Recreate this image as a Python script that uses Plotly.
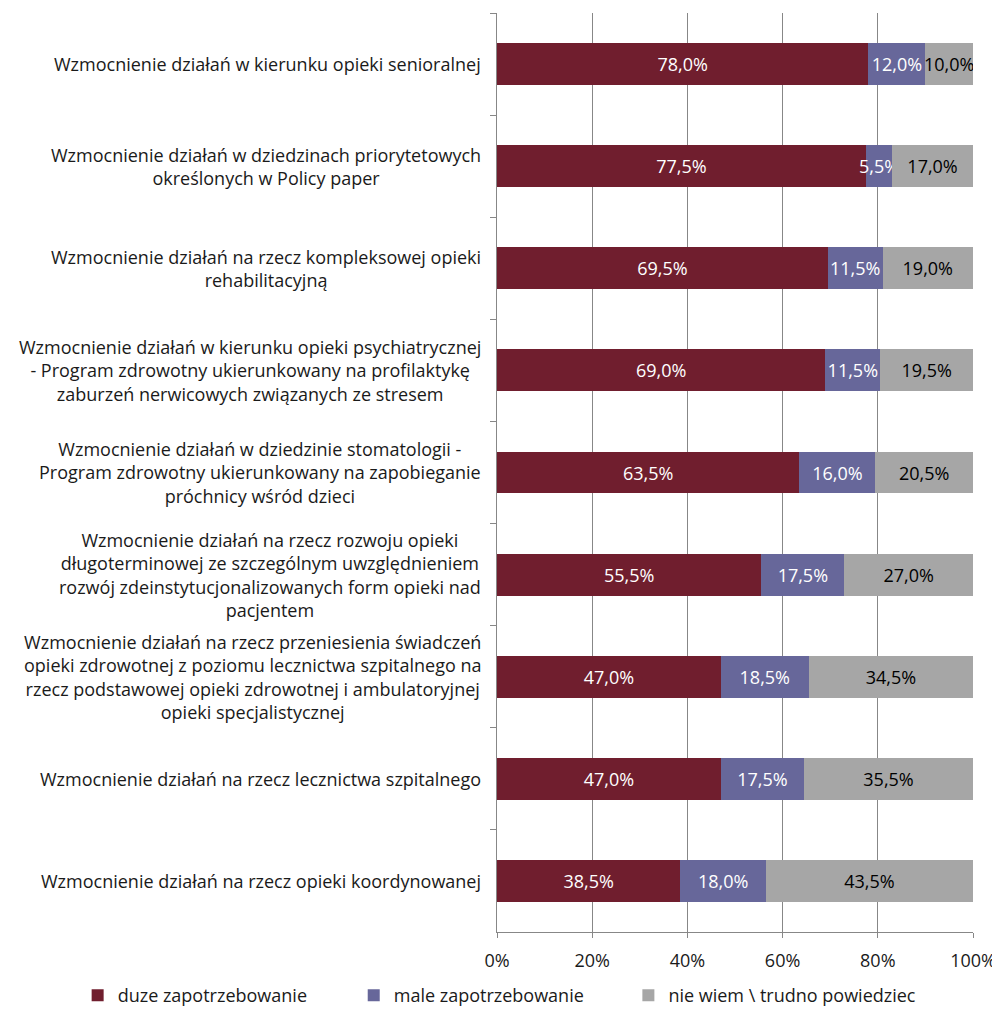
import plotly.graph_objects as go

categories = [
    "Wzmocnienie działań w kierunku opieki senioralnej",
    "Wzmocnienie działań w dziedzinach priorytetowych<br>określonych w Policy paper",
    "Wzmocnienie działań na rzecz kompleksowej opieki<br>rehabilitacyjną",
    "Wzmocnienie działań w kierunku opieki psychiatrycznej<br>- Program zdrowotny ukierunkowany na profilaktykę<br>zaburzeń nerwicowych związanych ze stresem",
    "Wzmocnienie działań w dziedzinie stomatologii -<br>Program zdrowotny ukierunkowany na zapobieganie<br>próchnicy wśród dzieci",
    "Wzmocnienie działań na rzecz rozwoju opieki<br>długoterminowej ze szczególnym uwzględnieniem<br>rozwój zdeinstytucjonalizowanych form opieki nad<br>pacjentem",
    "Wzmocnienie działań na rzecz przeniesienia świadczeń<br>opieki zdrowotnej z poziomu lecznictwa szpitalnego na<br>rzecz podstawowej opieki zdrowotnej i ambulatoryjnej<br>opieki specjalistycznej",
    "Wzmocnienie działań na rzecz lecznictwa szpitalnego",
    "Wzmocnienie działań na rzecz opieki koordynowanej",
]
duze = [78.0, 77.5, 69.5, 69.0, 63.5, 55.5, 47.0, 47.0, 38.5]
male = [12.0, 5.5, 11.5, 11.5, 16.0, 17.5, 18.5, 17.5, 18.0]
nie_wiem = [10.0, 17.0, 19.0, 19.5, 20.5, 27.0, 34.5, 35.5, 43.5]
series_names = ["duze zapotrzebowanie", "male zapotrzebowanie", "nie wiem \\ trudno powiedziec"]
x_ticks = [0, 20, 40, 60, 80, 100]
x_tick_labels = ["0%", "20%", "40%", "60%", "80%", "100%"]

FONT = "Open Sans"
FS = 18
colors = ["#701E2E", "#67679A", "#A6A6A6"]
text_colors = ["white", "white", "black"]
legend_ids = ["legend", "legend2", "legend3"]
legend_x = [-0.881, -0.301, 0.276]

fig = go.Figure()
for name, vals, c, tc, lid in zip(series_names, [duze, male, nie_wiem], colors, text_colors, legend_ids):
    fig.add_trace(go.Bar(
        y=categories, x=vals, name=name, orientation="h",
        marker=dict(color=c, line=dict(width=0)),
        texttemplate="%{x:.1f}%", textposition="inside", insidetextanchor="middle",
        textangle=0, constraintext="none",
        textfont=dict(family=FONT, size=FS, color=tc),
        hoverinfo="skip", legend=lid,
    ))

for cat in categories:
    fig.add_annotation(
        x=0, xref="paper", y=cat, yref="y", text=cat, showarrow=False,
        xanchor="right", yanchor="middle", xshift=-14, align="center",
        font=dict(family=FONT, size=FS, color="#1a1a1a"),
    )

legend_layout = {}
for lid, lx in zip(legend_ids, legend_x):
    legend_layout[lid] = dict(
        orientation="h", x=lx, xanchor="left",
        yref="container", y=0.0, yanchor="bottom",
        font=dict(family=FONT, size=FS, color="#1a1a1a"),
        bgcolor="rgba(0,0,0,0)",
    )

fig.update_layout(
    width=992, height=1006,
    barmode="stack", bargap=0.59,
    separators=",.",
    plot_bgcolor="white", paper_bgcolor="white",
    margin=dict(l=489, r=27, t=5, b=82),
    font=dict(family=FONT, size=FS, color="#1a1a1a"),
    showlegend=True,
    **legend_layout,
)
fig.update_xaxes(
    range=[0, 100], tickvals=x_ticks, ticktext=x_tick_labels,
    showgrid=True, gridcolor="#878787", gridwidth=1,
    showline=True, linecolor="#878787", linewidth=1,
    ticks="outside", ticklen=5, tickcolor="#878787",
    ticklabelstandoff=7, zeroline=False,
    tickfont=dict(family=FONT, size=FS, color="#1a1a1a"),
)
fig.update_yaxes(
    autorange="reversed", showticklabels=False,
    showline=True, linecolor="#878787", linewidth=1,
    ticks="outside", ticklen=6, tickcolor="#878787", tickson="boundaries",
    showgrid=False,
)

fig.write_html("out.html")
